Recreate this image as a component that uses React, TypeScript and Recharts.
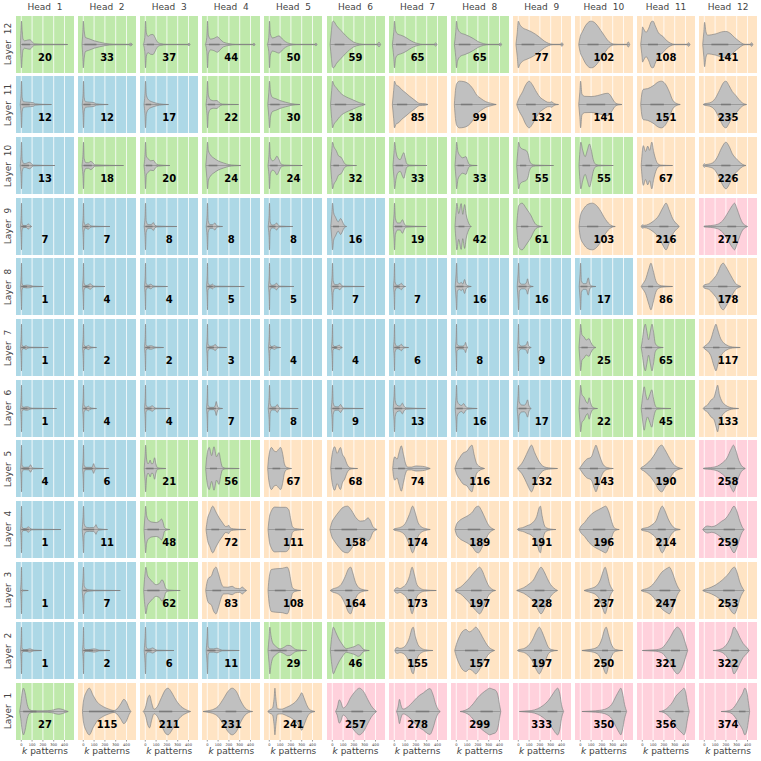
import React from 'react';
import { AreaChart, Area, XAxis, YAxis, CartesianGrid, ReferenceLine } from 'recharts';

const headLabels = ['Head  1', 'Head  2', 'Head  3', 'Head  4', 'Head  5', 'Head  6', 'Head  7', 'Head  8', 'Head  9', 'Head  10', 'Head  11', 'Head  12'];
const layerLabels = ['Layer  12', 'Layer  11', 'Layer  10', 'Layer  9', 'Layer  8', 'Layer  7', 'Layer  6', 'Layer  5', 'Layer  4', 'Layer  3', 'Layer  2', 'Layer  1'];
const xTicks = [0, 100, 200, 300, 400];

// background group of each cell, G = green, B = blue, O = orange, P = pink
const groupsL12 = 'GGGGGGGGOOOO';
const groupsL11 = 'BBBGGGOOOOOO';
const groupsL10 = 'BGGGGGGGGGOO';
const groupsL9 = 'BBBBBBGGGOOP';
const groupsL8 = 'BBBBBBBBBBOO';
const groupsL7 = 'BBBBBBBBBGGO';
const groupsL6 = 'BBBBBBBBBGGO';
const groupsL5 = 'BBGGOOOOOOOP';
const groupsL4 = 'BBGOOOOOOOOP';
const groupsL3 = 'BBGOOOOOOOOO';
const groupsL2 = 'BBBBGGOOOOPP';
const groupsL1 = 'GOOOOPPPPPPP';

const countsL12 = [20, 33, 37, 44, 50, 59, 65, 65, 77, 102, 108, 141];
const countsL11 = [12, 12, 17, 22, 30, 38, 85, 99, 132, 141, 151, 235];
const countsL10 = [13, 18, 20, 24, 24, 32, 33, 33, 55, 55, 67, 226];
const countsL9 = [7, 7, 8, 8, 8, 16, 19, 42, 61, 103, 216, 271];
const countsL8 = [1, 4, 4, 5, 5, 7, 7, 16, 16, 17, 86, 178];
const countsL7 = [1, 2, 2, 3, 4, 4, 6, 8, 9, 25, 65, 117];
const countsL6 = [1, 4, 4, 7, 8, 9, 13, 16, 17, 22, 45, 133];
const countsL5 = [4, 6, 21, 56, 67, 68, 74, 116, 132, 143, 190, 258];
const countsL4 = [1, 11, 48, 72, 111, 158, 174, 189, 191, 196, 214, 259];
const countsL3 = [1, 7, 62, 83, 108, 164, 173, 197, 228, 237, 247, 253];
const countsL2 = [1, 2, 6, 11, 29, 46, 155, 157, 197, 250, 321, 322];
const countsL1 = [27, 115, 211, 231, 241, 257, 278, 299, 333, 350, 356, 374];

// violin outlines as pairs [k, half width] (width scaled so the widest point is 10)
const violinsL12 = [
  [-8, 0, -3, 6, 2, 10, 8, 6, 15, 2.5, 30, 1.6, 60, 1.9, 80, 2, 100, 1.2, 120, 0.3, 200, 0.15, 400, 0.1, 430, 0],
  [-12, 0, -5, 5, 0, 10, 8, 6, 20, 3, 50, 2.5, 100, 1.6, 150, 1, 200, 0.5, 280, 0.15, 420, 0.1, 440, 0.6, 455, 0],
  [-18, 0, -5, 3, 2, 10, 10, 5, 25, 3.5, 50, 4.2, 70, 4.3, 90, 3, 110, 1.2, 140, 0.4, 200, 0.1, 390, 0.1, 405, 0.6, 415, 0],
  [-18, 0, -5, 3, 2, 10, 10, 4, 30, 2.3, 60, 2.6, 95, 3.3, 120, 2.2, 150, 1, 200, 0.4, 260, 0.1, 420, 0.1, 432, 0.6, 442, 0],
  [-18, 0, -5, 3, 2, 10, 10, 4.5, 30, 2.8, 60, 3.2, 90, 3.7, 120, 2.4, 150, 1.2, 190, 0.4, 250, 0.1, 420, 0.1, 432, 0.6, 442, 0],
  [-20, 0, -8, 6, 0, 9.5, 10, 10, 40, 8, 80, 6, 120, 4, 160, 2.3, 200, 1, 250, 0.3, 300, 0.1, 415, 0.1, 432, 1, 448, 0],
  [-18, 0, -6, 5, 2, 10, 12, 6, 30, 4.5, 60, 4, 100, 3.2, 140, 2, 180, 1, 220, 0.4, 260, 0.1, 368, 0.1, 383, 0.7, 395, 0],
  [-18, 0, -6, 5, 2, 10, 12, 7, 40, 5, 80, 4.3, 120, 3.5, 160, 2.5, 200, 1.3, 250, 0.4, 300, 0.1, 392, 0.1, 407, 0.7, 420, 0],
  [-22, 0, -10, 5, 0, 10, 15, 8.5, 40, 7.2, 80, 6.3, 120, 5.5, 160, 4.4, 200, 3, 240, 1.5, 280, 0.5, 320, 0.1, 390, 0.1, 404, 0.8, 416, 0],
  [-15, 0, 0, 3.5, 20, 5.5, 50, 8.2, 80, 9.7, 100, 10, 130, 9.5, 160, 8, 190, 6, 220, 4, 250, 2, 280, 0.7, 310, 0.2, 350, 0.1, 430, 0.1, 444, 1.1, 458, 0],
  [-15, 0, -5, 4, 3, 7.5, 15, 6.5, 35, 5.2, 60, 7, 85, 9.8, 100, 10, 120, 8, 150, 5, 190, 3.5, 230, 1.5, 265, 0.5, 300, 0.1, 415, 0.1, 429, 0.8, 442, 0],
  [-15, 0, -5, 5, 3, 9.5, 15, 5.5, 30, 4, 70, 4.2, 110, 4.6, 160, 5.4, 200, 5.6, 240, 4.8, 280, 3, 320, 1.5, 350, 0.5, 380, 0.1, 425, 0.1, 438, 0.8, 450, 0],
];
const violinsL11 = [
  [-10, 0, -3, 4, 2, 10, 8, 3, 20, 1.2, 60, 1, 110, 0.8, 130, 0.3, 200, 0.1, 280, 0],
  [-10, 0, -3, 4, 2, 10, 8, 3, 20, 1.2, 60, 1, 100, 0.8, 120, 0.3, 180, 0.1, 231, 0],
  [-12, 0, -4, 4, 2, 10, 10, 4, 30, 2, 60, 1.2, 100, 0.6, 130, 0.3, 216, 0],
  [-12, 0, -4, 4, 2, 10, 10, 4, 30, 2, 60, 1.6, 90, 1.7, 110, 0.8, 140, 0.2, 290, 0],
  [-14, 0, -5, 5, 2, 10, 12, 5, 30, 3, 60, 2.5, 100, 1.7, 150, 1, 200, 0.4, 240, 0.15, 284, 0],
  [-16, 0, -6, 6, 2, 10, 15, 8.5, 40, 7, 70, 5.2, 100, 4, 150, 2.8, 200, 1.8, 250, 0.8, 290, 0.3, 305, 0],
  [-18, 0, -6, 6, 2, 10, 15, 8.5, 40, 7.8, 70, 6.3, 100, 5.2, 140, 3.6, 180, 2.2, 210, 1.1, 230, 0.5, 260, 0.4, 290, 0.3, 312, 0],
  [-18, 0, -8, 6, 5, 9, 30, 10, 70, 9.8, 110, 9, 150, 7, 190, 4, 230, 2.5, 270, 1.3, 300, 0.8, 340, 0.3, 370, 0],
  [-15, 0, 0, 2, 40, 5.5, 70, 8.5, 100, 10, 130, 8.5, 160, 6, 200, 3.2, 240, 1.8, 270, 1, 290, 0.9, 310, 1.2, 330, 0.4, 373, 0],
  [-15, 0, -5, 5, 3, 10, 15, 4.5, 40, 3.5, 100, 3.4, 160, 3.8, 220, 4.6, 255, 4.8, 285, 3.5, 310, 1.5, 330, 0.5, 355, 0.2, 386, 0],
  [-15, 0, -3, 5, 10, 6.5, 50, 6.8, 100, 8, 150, 9.7, 175, 10, 210, 9, 250, 5.5, 280, 2, 310, 0.6, 352, 0],
  [-10, 0, 0, 0.3, 50, 0.7, 100, 2.5, 140, 6, 180, 9.5, 200, 10, 230, 8, 260, 5.5, 290, 4, 320, 2.2, 350, 0.8, 370, 0.3, 392, 0],
];
const violinsL10 = [
  [-10, 0, -3, 4, 2, 10, 8, 2.5, 25, 0.8, 50, 1, 75, 1.4, 95, 0.8, 110, 0.2, 312, 0],
  [-12, 0, -4, 4, 2, 10, 8, 3, 25, 1.2, 50, 1.2, 70, 1.8, 90, 1, 110, 0.3, 373, 0],
  [-12, 0, -4, 4, 2, 10, 10, 4, 25, 3, 50, 2, 75, 2.2, 95, 1, 120, 0.3, 228, 0],
  [-14, 0, -5, 5, 2, 10, 10, 6.5, 30, 4.5, 60, 3.2, 100, 2, 150, 1.1, 200, 0.4, 250, 0.15, 312, 0],
  [-12, 0, -4, 4, 2, 10, 10, 3.5, 30, 2, 50, 2.5, 70, 4, 90, 2.5, 110, 0.6, 140, 0.2, 306, 0],
  [-16, 0, -6, 6, 2, 10, 15, 8, 35, 6.5, 60, 4, 80, 3.6, 95, 2.5, 115, 0.8, 140, 0.2, 225, 0],
  [-12, 0, -4, 5, 3, 10, 15, 6, 35, 3, 55, 2.5, 75, 4.5, 88, 5.5, 100, 3.5, 115, 0.8, 140, 0.2, 302, 0],
  [-12, 0, -4, 5, 3, 10, 15, 6, 35, 4.2, 60, 3.3, 90, 3.8, 105, 2, 120, 0.5, 150, 0.1, 194, 0],
  [-15, 0, -5, 6, 3, 10, 15, 8, 40, 7, 70, 6.5, 90, 5, 105, 2, 125, 0.6, 160, 0.2, 327, 0],
  [-12, 0, -4, 6, 5, 10, 20, 7, 45, 3.8, 65, 6.5, 85, 9.2, 100, 7, 120, 2.5, 140, 0.6, 170, 0.2, 306, 0],
  [-10, 0, -2, 5, 10, 8.5, 30, 6, 50, 8.3, 68, 6.5, 88, 10, 105, 6, 125, 2.5, 145, 0.7, 170, 0.2, 281, 0],
  [-10, 0, -4, 0.6, 2, 0.8, 10, 0.4, 40, 0.6, 80, 1.2, 120, 3.5, 160, 7.5, 200, 10, 230, 8.2, 260, 5, 290, 3.2, 320, 1.8, 350, 0.6, 386, 0],
];
const violinsL9 = [
  [-8, 0, -2, 4, 2, 10, 6, 2, 15, 0.5, 45, 0.4, 65, 1.1, 80, 0.5, 96, 0],
  [-8, 0, -2, 4, 2, 10, 6, 2, 20, 0.6, 45, 1.2, 60, 0.6, 80, 0.2, 247, 0],
  [-10, 0, -3, 4, 2, 10, 8, 2.5, 25, 0.8, 55, 0.8, 74, 1.7, 90, 0.5, 110, 0.2, 293, 0],
  [-10, 0, -3, 4, 2, 10, 8, 2.5, 25, 0.8, 50, 0.8, 70, 1.5, 85, 0.5, 100, 0.2, 142, 0],
  [-10, 0, -3, 4, 2, 10, 8, 2, 25, 0.6, 50, 0.8, 68, 1.5, 85, 0.5, 100, 0.2, 219, 0],
  [-14, 0, -5, 5, 2, 10, 12, 6, 30, 4, 55, 2, 77, 3.4, 95, 2, 110, 0.6, 133, 0],
  [-10, 0, -3, 5, 2, 10, 10, 3.5, 30, 1.5, 55, 1.5, 75, 2.9, 92, 1.3, 110, 0.3, 296, 0],
  [-12, 0, -3, 6, 5, 10, 22, 5.5, 45, 9.8, 60, 5.2, 77, 9.4, 92, 5, 110, 2, 125, 0.5, 140, 0],
  [-15, 0, -5, 6, 5, 9, 35, 10, 70, 8, 100, 6, 120, 4.5, 140, 2.5, 165, 0.8, 190, 0.3, 225, 0],
  [-12, 0, 0, 4.5, 30, 7.5, 70, 9.5, 110, 10, 150, 9, 190, 6.5, 220, 4, 250, 2, 270, 1, 295, 0.3, 324, 0],
  [-10, 0, 0, 0.7, 20, 0.5, 60, 1, 100, 2.2, 150, 4.5, 190, 8, 220, 10, 250, 7, 280, 3.5, 310, 1.5, 330, 0.6, 343, 0],
  [-5, 0, 0, 0.2, 60, 0.4, 120, 0.9, 170, 2.5, 220, 6, 260, 9, 280, 10, 300, 8, 330, 4, 355, 1.5, 380, 0.5, 401, 0],
];
const violinsL8 = [
  [-8, 0, -2, 4, 2, 10, 6, 1.5, 20, 0.4, 50, 0.6, 90, 0.4, 110, 0.15, 204, 0],
  [-8, 0, -2, 4, 2, 10, 6, 1.5, 25, 0.4, 50, 0.8, 65, 1.2, 80, 0.5, 100, 0.15, 201, 0],
  [-8, 0, -2, 4, 2, 10, 6, 1.5, 25, 0.5, 40, 0.8, 52, 1, 65, 0.5, 90, 0.15, 207, 0],
  [-8, 0, -2, 4, 2, 10, 6, 1.5, 25, 0.5, 40, 0.8, 50, 1, 62, 0.4, 85, 0.15, 343, 0],
  [-8, 0, -2, 4, 2, 10, 6, 1.5, 25, 0.5, 50, 0.8, 68, 1.4, 82, 0.5, 100, 0.15, 228, 0],
  [-10, 0, -3, 4, 2, 10, 8, 2.5, 25, 0.8, 50, 0.8, 70, 1.4, 85, 0.5, 105, 0.15, 296, 0],
  [-8, 0, -2, 4, 2, 10, 6, 2, 25, 0.5, 50, 0.8, 65, 1.4, 78, 0.6, 90, 0.2, 105, 0],
  [-10, 0, -3, 5, 3, 10, 10, 2, 30, 1.2, 46, 1.8, 60, 1, 77, 3, 90, 1, 110, 0.3, 139, 0],
  [-10, 0, -3, 5, 3, 10, 10, 2, 30, 1, 60, 1, 78, 2, 86, 3.3, 95, 1.5, 110, 0.3, 139, 0],
  [-10, 0, -3, 5, 3, 10, 10, 2.5, 30, 1.2, 55, 1.2, 74, 3.7, 85, 1.5, 100, 0.3, 145, 0],
  [-10, 0, 0, 0.8, 30, 3, 60, 7.5, 80, 10, 100, 7, 125, 2.5, 150, 0.8, 180, 0.3, 220, 0.15, 281, 0],
  [-10, 0, 0, 0.7, 40, 1.2, 80, 3, 120, 5.5, 160, 9.5, 175, 10, 200, 8.5, 230, 6, 260, 3.5, 290, 1.3, 320, 0.4, 340, 0],
];
const violinsL7 = [
  [-8, 0, -2, 4, 2, 10, 6, 1.2, 25, 0.4, 43, 0.8, 58, 0.4, 80, 0.15, 250, 0],
  [-8, 0, -2, 4, 2, 10, 6, 1.2, 25, 0.4, 49, 0.9, 62, 0.4, 80, 0.15, 123, 0],
  [-8, 0, -2, 4, 2, 10, 6, 1.2, 25, 0.5, 40, 0.7, 60, 0.7, 80, 0.3, 100, 0.15, 170, 0],
  [-8, 0, -2, 4, 2, 10, 6, 1.5, 25, 0.5, 55, 0.7, 74, 1.3, 88, 0.5, 105, 0.15, 179, 0],
  [-8, 0, -2, 4, 2, 10, 6, 1.2, 25, 0.4, 49, 0.8, 62, 0.4, 80, 0.15, 105, 0],
  [-8, 0, -2, 4, 2, 10, 6, 1.2, 25, 0.4, 50, 0.7, 65, 1, 78, 0.4, 93, 0],
  [-8, 0, -2, 4, 2, 10, 6, 2, 25, 0.5, 50, 0.8, 65, 1.4, 78, 0.6, 95, 0.2, 133, 0],
  [-8, 0, -2, 4, 2, 10, 6, 1.5, 30, 0.6, 60, 0.6, 78, 1.2, 86, 2.2, 94, 0.8, 108, 0],
  [-8, 0, -2, 4, 2, 10, 6, 1.5, 30, 0.6, 60, 0.8, 78, 1.6, 86, 2.6, 95, 0.8, 120, 0],
  [-12, 0, -3, 6, 3, 10, 15, 5.5, 35, 4.5, 55, 3.2, 80, 3.8, 100, 2, 120, 0.6, 145, 0],
  [-10, 0, 0, 3, 15, 8, 28, 10, 42, 7, 58, 3.3, 75, 7, 90, 10, 105, 6.5, 120, 1.8, 140, 0.6, 160, 0.2, 194, 0],
  [-10, 0, 0, 0.5, 30, 1.5, 60, 3.5, 90, 8, 108, 10, 125, 7.5, 150, 4, 175, 2.2, 210, 1, 240, 0.4, 280, 0.15, 333, 0],
];
const violinsL6 = [
  [-8, 0, -2, 4, 2, 10, 6, 1.2, 25, 0.5, 40, 0.7, 60, 0.7, 80, 0.3, 100, 0.15, 327, 0],
  [-8, 0, -2, 4, 2, 10, 6, 1.5, 25, 0.5, 49, 1, 62, 0.4, 80, 0.15, 123, 0],
  [-8, 0, -2, 4, 2, 10, 6, 1.5, 25, 0.5, 50, 0.8, 65, 1.2, 80, 0.5, 100, 0.15, 228, 0],
  [-8, 0, -2, 4, 2, 10, 6, 1.5, 25, 0.5, 60, 0.5, 75, 1.5, 83, 3, 91, 1.5, 105, 0.3, 142, 0],
  [-10, 0, -3, 4, 2, 10, 8, 2, 25, 0.6, 55, 0.7, 74, 1.7, 88, 0.6, 105, 0.15, 268, 0],
  [-10, 0, -3, 4, 2, 10, 8, 2.5, 25, 0.8, 55, 0.7, 77, 1.7, 92, 0.6, 110, 0.15, 287, 0],
  [-10, 0, -3, 5, 2, 10, 8, 3.5, 25, 1.4, 55, 1, 74, 2.3, 90, 1, 110, 0.3, 290, 0],
  [-10, 0, -3, 5, 2, 10, 8, 3.5, 25, 1.8, 50, 1.3, 68, 2.1, 85, 1, 105, 0.3, 194, 0],
  [-10, 0, -3, 5, 2, 10, 8, 3, 30, 1.5, 55, 1.4, 75, 2.5, 86, 3.7, 97, 1.5, 110, 0.3, 120, 0],
  [-12, 0, -3, 6, 3, 10, 15, 6, 35, 4.8, 55, 2.8, 68, 2.2, 82, 4.6, 95, 2.5, 110, 0.7, 130, 0.2, 160, 0],
  [-10, 0, 0, 4, 18, 9.3, 32, 6, 48, 3.6, 70, 6, 88, 8, 105, 4, 122, 1, 140, 0.3, 180, 0.15, 265, 0],
  [-10, 0, 0, 0.6, 30, 1.5, 60, 3.5, 90, 4.8, 110, 8, 123, 10, 140, 6, 165, 3, 195, 1.5, 230, 0.6, 270, 0.2, 318, 0],
];
const violinsL5 = [
  [-8, 0, -2, 4, 2, 10, 6, 1.5, 25, 0.5, 70, 0.6, 86, 1.6, 98, 0.5, 115, 0.15, 204, 0],
  [-8, 0, -2, 4, 2, 10, 6, 1.5, 25, 0.5, 80, 0.5, 90, 1.5, 96, 2.1, 103, 1.2, 115, 0.2, 235, 0],
  [-10, 0, -3, 5, 3, 10, 12, 4, 25, 2, 35, 2.5, 45, 3.6, 58, 2, 72, 2.2, 86, 4.6, 98, 2, 112, 0.4, 140, 0.15, 191, 0],
  [-15, 0, -5, 5, 18, 9, 40, 5.5, 62, 9.3, 85, 5, 108, 6.8, 125, 3, 140, 0.6, 170, 0.15, 296, 0],
  [-15, 0, -5, 5, 20, 9, 45, 7.5, 65, 7.2, 90, 8.5, 105, 9, 125, 6, 140, 2, 160, 0.5, 207, 0],
  [-15, 0, -5, 5, 22, 9.3, 45, 6.5, 75, 9, 95, 6, 115, 4.5, 135, 2, 155, 0.6, 180, 0.2, 235, 0],
  [-15, 0, -5, 4, 5, 5, 25, 4, 45, 7, 65, 9.7, 85, 6, 105, 2, 125, 0.6, 160, 0.6, 200, 1.1, 240, 1, 280, 0.8, 310, 0.4, 333, 0],
  [-12, 0, 0, 2, 30, 4.5, 60, 6.5, 100, 7.5, 130, 9.5, 145, 10, 165, 6, 185, 2.5, 210, 1, 235, 0.4, 262, 0],
  [-8, 0, 0, 0.5, 30, 2, 60, 4.5, 90, 7.5, 123, 10, 150, 7, 180, 4, 210, 1.8, 240, 0.7, 280, 0.3, 320, 0.15, 364, 0],
  [-10, 0, 0, 0.5, 30, 2.5, 60, 4, 100, 4.8, 130, 8.5, 145, 10, 165, 7.5, 190, 4, 215, 1.5, 250, 0.4, 306, 0],
  [-15, 0, -5, 0.6, 10, 0.9, 40, 2, 80, 3.8, 120, 6.5, 160, 9.5, 180, 10, 210, 8, 240, 5.5, 270, 3, 300, 1.3, 330, 0.5, 373, 0],
  [-10, 0, 0, 0.2, 60, 0.4, 120, 1, 170, 2.5, 210, 4.5, 250, 8.5, 270, 10, 290, 8, 320, 3.5, 345, 1.2, 365, 0.4, 380, 0],
];
const violinsL4 = [
  [-8, 0, -2, 4, 2, 10, 6, 1.2, 25, 0.4, 50, 0.6, 65, 1.2, 80, 0.5, 100, 0.15, 367, 0],
  [-10, 0, -3, 5, 2, 10, 8, 2.5, 25, 1, 60, 0.8, 100, 0.9, 110, 1.5, 117, 2.1, 125, 1.3, 140, 0.3, 225, 0],
  [-12, 0, -3, 6, 3, 10, 12, 6, 30, 4, 60, 3.2, 100, 3, 130, 3.5, 150, 4.5, 165, 3, 178, 0.8, 195, 0.3, 228, 0],
  [-12, 0, 0, 4, 25, 7.5, 50, 10, 80, 7.5, 110, 5, 140, 3, 170, 1.3, 185, 1.4, 198, 1.8, 210, 0.8, 240, 0.3, 358, 0],
  [-12, 0, 0, 5, 20, 8, 50, 9.6, 100, 9.5, 150, 9.5, 180, 8.5, 200, 4, 215, 1.2, 240, 0.4, 280, 0.2, 321, 0],
  [-22, 0, -5, 3, 20, 5, 60, 7.5, 100, 9.5, 140, 10, 180, 8, 220, 5, 260, 3.6, 300, 3.8, 330, 5, 350, 4, 375, 1.3, 400, 0.3, 415, 0],
  [-8, 0, 0, 0.3, 50, 0.8, 100, 2.5, 140, 6.5, 170, 10, 195, 7, 220, 3, 250, 1.2, 290, 0.4, 333, 0],
  [-12, 0, 0, 2, 30, 3.8, 70, 5, 110, 6, 150, 7.5, 180, 9.5, 205, 10, 235, 8, 270, 4.5, 300, 1.8, 330, 0.5, 355, 0],
  [-8, 0, 0, 0.4, 40, 0.8, 80, 1.6, 130, 2.8, 170, 5.5, 195, 9.5, 205, 10, 220, 6, 240, 2, 260, 0.7, 300, 0.2, 349, 0],
  [-10, 0, 0, 1, 40, 3, 80, 5.5, 130, 7.5, 170, 8.5, 210, 9.5, 235, 10, 260, 8, 290, 3.5, 310, 1, 330, 0.3, 361, 0],
  [-12, 0, 0, 0.4, 50, 0.9, 90, 2, 130, 4, 160, 8, 185, 10, 210, 8, 240, 4.5, 270, 2, 300, 0.6, 330, 0.2, 352, 0],
  [-15, 0, 0, 0.8, 30, 1.5, 70, 1.2, 110, 1.8, 160, 3.5, 200, 4.8, 240, 7.5, 275, 10, 300, 8, 330, 3.5, 355, 0.8, 370, 0],
];
const violinsL3 = [
  [-8, 0, -2, 4, 2, 10, 6, 0.8, 20, 0.15, 65, 0],
  [-10, 0, -3, 5, 2, 10, 8, 2, 20, 1, 35, 0.5, 60, 0.3, 100, 0.15, 343, 0],
  [-15, 0, -5, 6, 5, 10, 20, 6.5, 45, 4.8, 70, 3.5, 100, 2.5, 130, 3, 155, 4.6, 175, 3, 190, 0.8, 220, 0.2, 324, 0],
  [-15, 0, -5, 3, 15, 5.5, 35, 6, 60, 9, 80, 10, 105, 7, 130, 3, 150, 1.5, 190, 1.4, 230, 1.8, 260, 1, 300, 0.8, 325, 1.5, 345, 0.6, 364, 0],
  [-12, 0, 0, 6, 20, 9, 60, 9.3, 120, 9.5, 165, 10, 185, 8, 200, 4, 215, 1.2, 240, 0.4, 290, 0],
  [-20, 0, 0, 0.6, 40, 1.2, 80, 2.5, 120, 6, 150, 9.3, 170, 10, 190, 7.5, 215, 3.5, 240, 1.5, 270, 0.6, 300, 0.25, 333, 0],
  [0, 0, 10, 0.8, 30, 1.2, 50, 0.8, 80, 1.5, 110, 2.8, 140, 6, 165, 10, 185, 7, 210, 2.5, 240, 1, 280, 0.3, 389, 0],
  [-12, 0, 0, 0.5, 40, 1.5, 80, 3.2, 120, 5.2, 160, 7.5, 200, 9.5, 215, 10, 240, 8.5, 270, 5, 300, 2, 330, 0.6, 364, 0],
  [-15, 0, 0, 0.3, 50, 1.2, 100, 2.8, 140, 4.5, 180, 8, 210, 10, 240, 8, 270, 5, 300, 2.5, 330, 1, 364, 0],
  [35, 0, 60, 0.4, 100, 0.9, 150, 2, 185, 4.5, 210, 8, 230, 10, 250, 7, 270, 3, 290, 1, 306, 0],
  [-12, 0, 0, 0.3, 40, 0.8, 80, 1.8, 130, 4.5, 180, 7.8, 230, 9.5, 250, 10, 280, 7.5, 310, 3.5, 335, 1, 352, 0],
  [-15, 0, 0, 0.4, 40, 1, 90, 2, 140, 3.5, 190, 5.5, 230, 7.5, 260, 9.5, 280, 10, 305, 7.5, 330, 3.5, 355, 1, 370, 0],
];
const violinsL2 = [
  [-8, 0, -2, 4, 2, 10, 6, 1.2, 25, 0.3, 60, 0.5, 80, 0.7, 100, 0.4, 120, 0.15, 188, 0],
  [-8, 0, -2, 4, 2, 10, 6, 1.2, 25, 0.3, 70, 0.5, 100, 0.7, 130, 0.4, 150, 0.15, 247, 0],
  [-10, 0, -3, 5, 2, 10, 8, 1.5, 25, 0.6, 50, 0.8, 68, 1.1, 90, 0.5, 110, 0.15, 265, 0],
  [-10, 0, -3, 5, 2, 10, 8, 1.8, 25, 0.7, 60, 0.7, 90, 1, 115, 0.5, 140, 0.15, 296, 0],
  [-12, 0, -3, 5, 5, 10, 15, 6.5, 30, 3.5, 60, 1.8, 100, 0.7, 130, 1.2, 170, 2.2, 200, 2, 230, 0.8, 260, 0.3, 346, 0],
  [-18, 0, -5, 6, 10, 10, 30, 8, 60, 5, 90, 2.8, 130, 0.8, 170, 1.2, 210, 1.8, 240, 2.5, 265, 1.8, 285, 0.6, 310, 0.2, 343, 0],
  [5, 0, 15, 1, 30, 1.3, 50, 0.9, 80, 1.2, 110, 2.5, 140, 5.5, 165, 9.5, 175, 10, 195, 6, 220, 2.5, 250, 1, 290, 0.3, 358, 0],
  [-15, 0, 0, 2.5, 30, 6, 60, 8.3, 90, 9, 120, 8, 150, 8.7, 180, 10, 210, 8.5, 240, 6, 270, 3.5, 300, 1.5, 330, 0.5, 355, 0],
  [-8, 0, 0, 0.3, 50, 0.8, 90, 2, 130, 4.5, 170, 8.5, 195, 10, 220, 8, 250, 4.5, 280, 1.3, 310, 0.4, 364, 0],
  [15, 0, 60, 0.3, 120, 0.7, 170, 2, 200, 5, 225, 9, 240, 10, 260, 7, 285, 3, 305, 1.2, 330, 0.4, 392, 0],
  [0, 0, 50, 0.15, 120, 0.3, 180, 1, 220, 3, 260, 5.8, 300, 9, 325, 10, 350, 9, 380, 6, 400, 3, 420, 0],
  [80, 0, 130, 0.3, 180, 1.3, 220, 3.5, 250, 6.5, 275, 10, 300, 8.5, 330, 5.5, 360, 3, 390, 1.5, 417, 0],
];
const violinsL1 = [
  [-15, 0, -5, 3, 8, 8, 20, 10, 35, 8, 55, 3, 75, 0.8, 110, 0.3, 200, 0.3, 280, 0.5, 320, 1, 345, 1.2, 380, 0.9, 410, 0.4, 435, 0],
  [-8, 0, 0, 4, 30, 8.5, 56, 10, 90, 7, 130, 4, 170, 2.5, 210, 1.5, 250, 0.8, 285, 0.4, 320, 1.5, 350, 3.5, 375, 5.2, 400, 4, 425, 1.2, 441, 0],
  [-20, 0, 0, 1.5, 25, 6, 40, 7, 60, 3.5, 80, 1, 110, 2, 150, 6, 190, 9.5, 210, 10, 240, 8.5, 270, 6, 300, 3.8, 330, 2.2, 360, 1.2, 390, 0.5, 420, 0],
  [-40, 0, 0, 0.3, 50, 0.8, 100, 2.2, 150, 5.5, 190, 8.5, 230, 10, 270, 8.5, 310, 4.5, 350, 1.5, 380, 0.5, 420, 0],
  [-15, 0, 0, 0.6, 30, 1.5, 45, 6, 52, 10, 60, 6, 75, 1.2, 110, 1, 160, 1.8, 210, 3, 250, 4.5, 280, 6.5, 300, 8, 320, 6, 345, 3, 370, 1, 400, 0.3, 423, 0],
  [30, 0, 45, 1.5, 65, 5, 80, 4, 100, 1.5, 130, 2.5, 170, 6, 210, 8.5, 250, 10, 290, 8.5, 330, 5, 360, 2.5, 390, 0.8, 410, 0],
  [20, 0, 35, 2, 48, 5.2, 60, 3, 80, 1, 110, 1.5, 150, 3, 190, 5, 230, 6.8, 270, 8, 310, 9.5, 330, 9.8, 360, 7, 385, 3, 405, 1, 426, 0],
  [35, 0, 80, 0.5, 120, 1.5, 160, 3.5, 200, 6, 240, 7.8, 280, 9.2, 310, 10, 340, 9.5, 360, 9.2, 385, 7, 400, 3, 412, 0],
  [10, 0, 60, 0.2, 120, 0.4, 180, 1.2, 230, 2.6, 280, 4.8, 320, 7.5, 350, 9.5, 365, 10, 385, 7.5, 400, 3, 420, 0],
  [15, 0, 100, 0.2, 180, 0.5, 240, 1.2, 290, 3, 330, 6.5, 360, 9, 375, 10, 390, 8, 410, 3, 429, 0],
  [155, 0, 200, 0.5, 250, 2.3, 280, 4, 310, 6.5, 340, 8, 370, 9.3, 385, 10, 400, 8.5, 420, 3, 435, 0],
  [155, 0, 220, 0.3, 270, 1.5, 300, 3.5, 330, 5.8, 355, 7.8, 375, 10, 395, 8, 410, 3.5, 420, 0],
];

const groupColors: Record<string, string> = {
  G: '#bfe9ab',
  B: '#add8e6',
  O: '#ffe4c4',
  P: '#ffd1dc',
};

const rows = [
  { groups: groupsL12, counts: countsL12, violins: violinsL12 },
  { groups: groupsL11, counts: countsL11, violins: violinsL11 },
  { groups: groupsL10, counts: countsL10, violins: violinsL10 },
  { groups: groupsL9, counts: countsL9, violins: violinsL9 },
  { groups: groupsL8, counts: countsL8, violins: violinsL8 },
  { groups: groupsL7, counts: countsL7, violins: violinsL7 },
  { groups: groupsL6, counts: countsL6, violins: violinsL6 },
  { groups: groupsL5, counts: countsL5, violins: violinsL5 },
  { groups: groupsL4, counts: countsL4, violins: violinsL4 },
  { groups: groupsL3, counts: countsL3, violins: violinsL3 },
  { groups: groupsL2, counts: countsL2, violins: violinsL2 },
  { groups: groupsL1, counts: countsL1, violins: violinsL1 },
];

const PANEL_W = 58;
const PANEL_H = 57;
const LEFT0 = 16;
const TOP0 = 15.7;
const STEP_X = 62.1;
const STEP_Y = 60.66;
const X_DOMAIN = [-49, 488];
const Y_DOMAIN = [-12.2, 12.2];
const FONT = '"DejaVu Sans", sans-serif';
const LABEL_COLOR = '#444444';

function toPoints(knots: number[]) {
  const pts: { x: number; w: number }[] = [];
  for (let i = 0; i < knots.length; i += 2) pts.push({ x: knots[i], w: knots[i + 1] });
  return pts;
}

// quartiles of the outline, used for the inner box
function boxStats(pts: { x: number; w: number }[]) {
  const cum = [0];
  for (let i = 1; i < pts.length; i++) {
    cum.push(cum[i - 1] + ((pts[i].x - pts[i - 1].x) * (pts[i].w + pts[i - 1].w)) / 2);
  }
  const total = cum[cum.length - 1];
  const at = (p: number) => {
    const target = p * total;
    for (let i = 1; i < cum.length; i++) {
      if (cum[i] >= target) {
        const span = cum[i] - cum[i - 1] || 1;
        return pts[i - 1].x + ((target - cum[i - 1]) / span) * (pts[i].x - pts[i - 1].x);
      }
    }
    return pts[pts.length - 1].x;
  };
  return { lo: pts[0].x + 3, hi: pts[pts.length - 1].x - 3, q1: at(0.25), q3: at(0.75) };
}

function ViolinPanel({ knots, bg, bottom }: { knots: number[]; bg: string; bottom: boolean }) {
  const data = toPoints(knots);
  const s = boxStats(data);
  return (
    <AreaChart width={PANEL_W} height={bottom ? PANEL_H + 10 : PANEL_H} data={data} margin={{ top: 0, right: 0, bottom: 0, left: 0 }}>
      <CartesianGrid horizontal={false} stroke="#ffffff" strokeWidth={0.8} fill={bg} fillOpacity={1} verticalValues={xTicks} />
      <XAxis
        dataKey="x"
        type="number"
        domain={X_DOMAIN}
        allowDataOverflow
        ticks={xTicks}
        interval={0}
        hide={!bottom}
        height={10}
        axisLine={false}
        tickSize={1.5}
        tickLine={{ stroke: '#333', strokeWidth: 0.5 }}
        tick={{ fontSize: 3.6, fill: '#333', fontFamily: FONT }}
      />
      <YAxis type="number" domain={Y_DOMAIN} allowDataOverflow hide />
      <Area
        dataKey={(d: { w: number }) => [-d.w, d.w]}
        type="monotone"
        fill="#c0c0c0"
        fillOpacity={1}
        stroke="#7a7a7a"
        strokeWidth={0.6}
        dot={false}
        activeDot={false}
        isAnimationActive={false}
      />
      <ReferenceLine segment={[{ x: s.lo, y: 0 }, { x: s.hi, y: 0 }]} stroke="#808080" strokeWidth={0.6} />
      <ReferenceLine segment={[{ x: s.q1, y: 0 }, { x: s.q3, y: 0 }]} stroke="#7a7a7a" strokeWidth={1.6} />
    </AreaChart>
  );
}

export default function App() {
  return (
    <div style={{ position: 'absolute', left: 0, top: 0, width: 761, height: 761, background: '#ffffff', fontFamily: FONT }}>
      {headLabels.map((h, j) => (
        <div
          key={h}
          style={{ position: 'absolute', left: LEFT0 + j * STEP_X, top: 1, width: PANEL_W, textAlign: 'center', fontSize: 9, fontWeight: 'normal', lineHeight: '12px', color: LABEL_COLOR, whiteSpace: 'pre' }}
        >
          {h}
        </div>
      ))}
      {layerLabels.map((l, i) => (
        <div
          key={l}
          style={{
            position: 'absolute',
            left: 7.5 - 30,
            top: TOP0 + i * STEP_Y + PANEL_H / 2 - 6,
            width: 60,
            height: 12,
            lineHeight: '12px',
            textAlign: 'center',
            fontSize: 9,
            fontWeight: 'normal',
            color: LABEL_COLOR,
            whiteSpace: 'pre',
            transform: 'rotate(-90deg)',
          }}
        >
          {l}
        </div>
      ))}
      {rows.map((row, i) =>
        row.violins.map((knots, j) => (
          <div key={`${i}-${j}`} style={{ position: 'absolute', left: LEFT0 + j * STEP_X, top: TOP0 + i * STEP_Y }}>
            <ViolinPanel knots={knots} bg={groupColors[row.groups[j]]} bottom={i === rows.length - 1} />
            <div
              style={{ position: 'absolute', left: 0, top: 36, width: PANEL_W, textAlign: 'center', fontSize: 10, lineHeight: '12px', fontWeight: 'bold', color: '#000' }}
            >
              {row.counts[j]}
            </div>
          </div>
        ))
      )}
      {headLabels.map((h, j) => (
        <div
          key={`k-${h}`}
          style={{ position: 'absolute', left: LEFT0 + j * STEP_X - 5, top: 745, width: PANEL_W + 10, textAlign: 'center', fontSize: 9, lineHeight: '12px', color: LABEL_COLOR, whiteSpace: 'pre' }}
        >
          <i>k</i> patterns
        </div>
      ))}
    </div>
  );
}
